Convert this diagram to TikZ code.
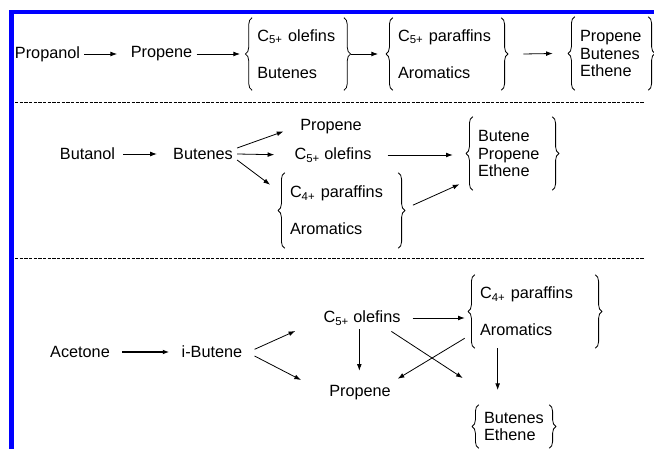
\documentclass[tikz,border=0pt]{standalone}
\usepackage{fontspec}
\setmainfont{Liberation Sans}
\usetikzlibrary{arrows.meta,decorations.pathreplacing}

\begin{document}
\begin{tikzpicture}[x=0.75pt,y=-0.75pt,
  font=\fontsize{12.2}{13}\selectfont,
  lbl/.style={inner sep=3pt},
  grp/.style={align=left,inner xsep=3.75pt,inner ysep=0pt},
  arr/.style={-{Latex[length=5pt,width=3.6pt]},line width=0.6pt},
  brc/.style={decorate,decoration={brace,amplitude=5pt},line width=0.6pt},
  sep/.style={line width=0.5pt,dash pattern=on 2.5pt off 1pt}]
  \useasboundingbox (0,0) rectangle (654,449);
  \fill[blue] (9,10) rectangle (654,14);
  \fill[blue] (9,10) rectangle (14,449);
  \draw[sep] (15,102) -- (644,102);
  \draw[sep] (15,258) -- (644,258);

  \node[lbl] (propanol) at (47.5,54) {Propanol};
  \node[lbl] (propeneA) at (161.5,54) {Propene};
  \node[grp, text width=61pt, minimum height=54pt] (olefA) at (298,54) {C\textsubscript{5+} olefins\\[14.75pt]Butenes};
  \node[grp, text width=73.5pt, minimum height=54pt] (parA) at (447,54) {C\textsubscript{5+} paraffins\\[14.75pt]Aromatics};
  \node[grp, text width=47.25pt, minimum height=54.75pt] (outA) at (611.5,53.5) {Propene\\Butenes\\Ethene};

  \node[lbl] (butanol) at (87.5,154) {Butanol};
  \node[lbl] (butenesB) at (203,154) {Butenes};
  \node[lbl] (propeneB) at (331,127) {Propene};
  \node[lbl] (olefB) at (333,155) {C\textsubscript{5+} olefins};
  \node[grp, text width=77.25pt, minimum height=56.25pt] (c4B) at (341.5,210.5) {C\textsubscript{4+} paraffins\\[14.75pt]Aromatics};
  \node[grp, text width=51.75pt, minimum height=54.75pt] (outB) at (512.5,153.5) {Butene\\Propene\\Ethene};

  \node[lbl] (acetone) at (80,352) {Acetone};
  \node[lbl] (ibutene) at (212,352) {i-Butene};
  \node[lbl] (olefC) at (362,318) {C\textsubscript{5+} olefins};
  \node[lbl] (propeneC) at (360,393) {Propene};
  \node[grp, text width=82.5pt, minimum height=54.75pt] (parC) at (535,311.5) {C\textsubscript{4+} paraffins\\[14.75pt]Aromatics};
  \node[grp, text width=45pt, minimum height=32.25pt] (botC) at (514,426.5) {Butenes\\Ethene};

  \foreach \g in {olefA,parA,outA,c4B,outB,parC,botC}
  {
    \draw[brc] (\g.south west) -- (\g.north west);
    \draw[brc] (\g.north east) -- (\g.south east);
  }

  \draw[arr, shorten >=7pt] (propanol.east) -- (propeneA.west);
  \draw[arr] (propeneA.east) -- ([xshift=-9pt]olefA.west);
  \draw[arr] ([xshift=5pt]olefA.east) -- ([xshift=-11pt]parA.west);
  \draw[arr] ([xshift=16.5pt]parA.east) -- ([xshift=-16.5pt]outA.west);

  \draw[arr, shorten <=3pt, shorten >=9pt] (butanol.east) -- (butenesB.west);
  \draw[arr, shorten >=10pt] ([yshift=4.5pt]butenesB.east) -- (propeneB.west);
  \draw[arr, shorten >=12pt] (butenesB.east) -- (olefB.west);
  \draw[arr] ([yshift=-4.5pt]butenesB.east) -- ([shift={(-11pt,-9pt)}]c4B.north west);
  \draw[arr, shorten <=9pt, shorten >=15pt] (olefB.east) -- (olefB.east -| outB.west);
  \draw[arr] ([shift={(11pt,4pt)}]c4B.east) -- ([shift={(-10pt,4.5pt)}]outB.south west);

  \draw[arr, line width=1.1pt, shorten <=6pt, shorten >=6pt] (acetone.east) -- (ibutene.west);
  \draw[arr] ([shift={(6pt,2pt)}]ibutene.east) -- ([shift={(-18pt,-9.75pt)}]olefC.west);
  \draw[arr] ([shift={(6pt,-3pt)}]ibutene.east) -- ([shift={(-18pt,9.75pt)}]propeneC.west);
  \draw[arr, shorten <=6pt, shorten >=7.5pt] (olefC.east) -- (olefC.east -| parC.west);
  \draw[arr, shorten >=8pt] ([xshift=-2pt]olefC.south) -- ([xshift=-2pt]olefC.south |- propeneC.north);
  \draw[arr] ([shift={(-10pt,-1.5pt)}]olefC.south east) -- ([shift={(-12pt,20pt)}]botC.north west);
  \draw[arr] ([shift={(-7.5pt,7.5pt)}]parC.south west) -- ([shift={(2pt,2pt)}]propeneC.north east);
  \draw[arr, shorten >=11pt] ([xshift=-28pt]parC.south) -- ([xshift=-28pt]parC.south |- botC.north);
\end{tikzpicture}
\end{document}
